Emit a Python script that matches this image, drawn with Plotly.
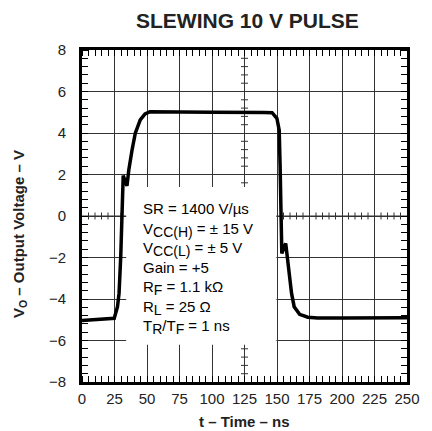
import numpy as np
import plotly.graph_objects as go

# Output voltage waveform for a 10 V slewing pulse
time_ns = [0, 10, 24.8, 27.3, 28.5, 29.8, 31.0, 31.7, 34.6, 36.0, 38.5, 41.0,
           44.8, 48.5, 52.3, 60, 100, 140, 146.2, 149.9, 151.7, 152.4, 153.2,
           153.7, 156.7, 158.7, 161.2, 163.2, 167.4, 173.7, 181.2, 200, 250]
vout_v = [-5.04, -5.0, -4.93, -4.37, -3.73, -1.96, 0.29, 1.95, 1.45, 2.22,
          3.18, 3.99, 4.63, 4.92, 5.03, 5.02, 5.0, 4.99, 4.98, 4.71, 4.14,
          2.38, -0.03, -1.80, -1.32, -2.44, -3.73, -4.37, -4.74, -4.88,
          -4.92, -4.92, -4.9]

x_ticks = [0, 25, 50, 75, 100, 125, 150, 175, 200, 225, 250]
y_ticks = [-8, -6, -4, -2, 0, 2, 4, 6, 8]

SUB = '<sub><span style="font-size:14px">{}</span></sub>'
conditions = [
    "SR = 1400 V/µs",
    "V" + SUB.format("CC(H)") + " = ± 15 V",
    "V" + SUB.format("CC(L)") + " = ± 5 V",
    "Gain = +5",
    "R" + SUB.format("F") + " = 1.1 kΩ",
    "R" + SUB.format("L") + " = 25 Ω",
    "T" + SUB.format("R") + "/T" + SUB.format("F") + " = 1 ns",
]

FONT = "Liberation Sans, Arial, sans-serif"
GRID = "#333333"

fig = go.Figure()
fig.add_trace(go.Scatter(
    x=time_ns, y=vout_v, mode="lines",
    line=dict(color="black", width=3.5),
    showlegend=False, hoverinfo="skip",
))

shapes = []
# graticule centre lines carry small cross ticks
for t in np.arange(5, 250, 5):
    if t % 25 == 0:
        continue
    shapes.append(dict(type="line", xref="x", yref="y", layer="between",
                       x0=t, x1=t, ysizemode="pixel", yanchor=0,
                       y0=-3.5, y1=3.5, line=dict(color=GRID, width=1)))
for v in np.arange(-7.6, 8.0, 0.4):
    v = round(v, 1)
    if abs(v / 2 - round(v / 2)) < 1e-6:
        continue
    shapes.append(dict(type="line", xref="x", yref="y", layer="between",
                       y0=v, y1=v, xsizemode="pixel", xanchor=125,
                       x0=-3.5, x1=3.5, line=dict(color=GRID, width=1)))
shapes.append(dict(type="line", xref="x", yref="y", layer="between",
                   x0=0, x1=250, y0=0, y1=0, line=dict(color=GRID, width=1)))
# white panel behind the test-condition text
shapes.append(dict(type="rect", xref="x", yref="y", layer="between",
                   x0=34, x1=149.5, y0=-6.2, y1=1.4,
                   fillcolor="white", line=dict(width=0)))

annotations = [
    dict(text="<br>".join(conditions), xref="x", yref="y", x=45.5, y=-2.55,
         xanchor="left", yanchor="middle", align="left", showarrow=False,
         font=dict(family=FONT, size=15, color="black")),
    dict(text="<b>SLEWING 10 V PULSE</b>", xref="paper", yref="paper",
         x=0.5, y=1, yshift=30, xshift=3, xanchor="center", yanchor="middle",
         showarrow=False, font=dict(family=FONT, size=21, color="#222")),
    dict(text="<b>t – Time – ns</b>", xref="paper", yref="paper",
         x=0.5, y=0, yshift=-39, xanchor="center", yanchor="middle",
         showarrow=False, font=dict(family=FONT, size=15, color="#222")),
    dict(text="<b>V<sub>O</sub> – Output Voltage – V</b>", xref="paper",
         yref="paper", x=0, xshift=-63, y=0.5, yshift=-18, textangle=-90,
         xanchor="center", yanchor="middle", showarrow=False,
         font=dict(family=FONT, size=15, color="#222")),
]

axis_common = dict(
    showline=True, linecolor="black", linewidth=3, mirror="all",
    showgrid=True, gridcolor=GRID, gridwidth=1, zeroline=False,
    ticks="", tickfont=dict(family=FONT, size=15, color="#222"),
    fixedrange=True,
)

fig.update_layout(
    width=432, height=431,
    margin=dict(l=82, r=17, t=50, b=49),
    paper_bgcolor="white", plot_bgcolor="white",
    xaxis=dict(range=[0, 250], tickvals=x_ticks, ticklabelstandoff=1,
               minor=dict(dtick=5, tick0=0, ticks="inside", ticklen=6,
                          tickcolor="black", tickwidth=1, showgrid=False),
               **axis_common),
    yaxis=dict(range=[-8, 8], tickvals=y_ticks, ticklabelstandoff=10,
               minor=dict(dtick=0.4, tick0=0, ticks="inside", ticklen=6,
                          tickcolor="black", tickwidth=1, showgrid=False),
               **axis_common),
    shapes=shapes,
    annotations=annotations,
    showlegend=False,
)

fig.write_html("out.html")
